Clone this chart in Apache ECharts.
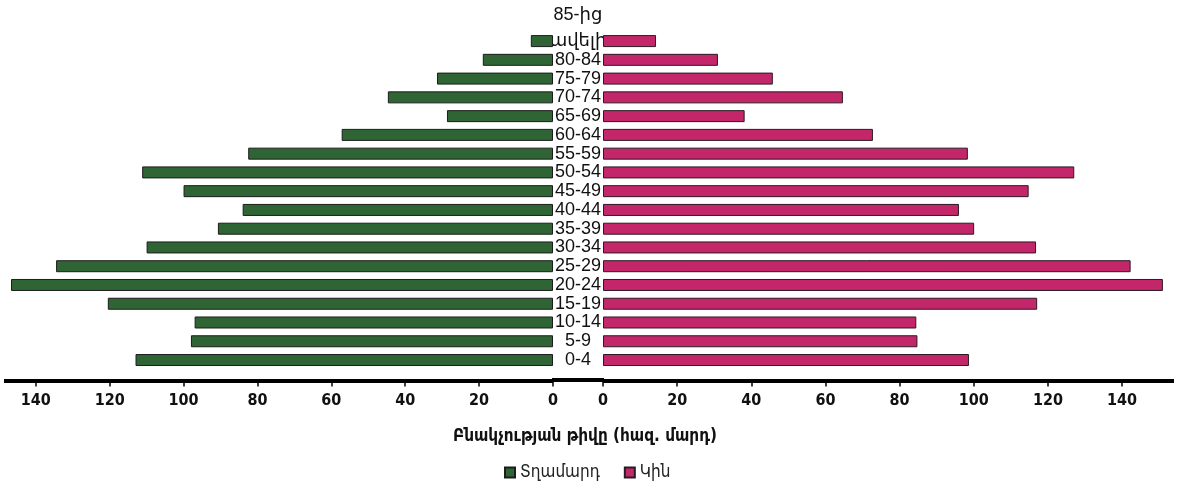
<!DOCTYPE html>
<html>
<head>
<meta charset="utf-8">
<script src="https://cdn.jsdelivr.net/npm/echarts@6/dist/echarts.min.js"></script>
<style>html,body{margin:0;padding:0;background:#fff;}#c{width:1182px;height:495px;}</style>
</head>
<body>
<div id="c"></div>
<script>
var categories = ['0-4','5-9','10-14','15-19','20-24','25-29','30-34','35-39','40-44','45-49','50-54','55-59','60-64','65-69','70-74','75-79','80-84','85-ից ավելի'];
var maleValues = [113, 98, 97, 120.5, 146.7, 134.5, 110, 90.7, 84, 100, 111.2, 82.5, 57.2, 28.7, 44.7, 31.4, 19, 6];
var femaleValues = [98.7, 84.8, 84.5, 117.1, 151, 142.3, 116.8, 100.1, 96, 114.8, 127.1, 98.4, 72.8, 38.2, 64.7, 45.8, 31, 14.3];
var tickValues = [0, 20, 40, 60, 80, 100, 120, 140];
var seriesNames = ['Տղամարդ', 'Կին'];
var axisTitle = 'Բնակչության թիվը (հազ. մարդ)';

var chart = echarts.init(document.getElementById('c'));
var tickFont = "'Liberation Sans Narrow','DejaVu Sans Condensed',sans-serif";
function xAxisFor(gi, inv, mx) {
  return {
    type: 'value', gridIndex: gi, inverse: inv, min: 0, max: mx, offset: 11,
    axisLine: {show: true, lineStyle: {color: '#000', width: 4, cap: 'butt'}},
    axisTick: {show: true, customValues: tickValues, length: 6, lineStyle: {color: '#000', width: 1.5}},
    axisLabel: {customValues: tickValues, margin: 12, fontSize: 16, color: '#111', fontFamily: tickFont, fontWeight: 'bold'},
    splitLine: {show: false}
  };
}
chart.setOption({
  animation: false,
  backgroundColor: '#fff',
  title: {
    text: axisTitle, left: 580, top: 423, textAlign: 'center',
    textStyle: {fontSize: 17, fontWeight: 'bold', color: '#111', fontFamily: "'DejaVu Sans Condensed','Noto Sans',sans-serif"}
  },
  legend: {
    data: seriesNames, left: 504, top: 464, itemWidth: 10, itemHeight: 10, itemGap: 24, padding: 0,
    icon: 'rect',
    textStyle: {fontSize: 17, color: '#222', fontFamily: "'DejaVu Sans Condensed','Noto Sans',sans-serif"}
  },
  grid: [
    {left: 4, right: 629, top: 31.7, bottom: 125.6},
    {left: 603, right: 8, top: 31.7, bottom: 125.6}
  ],
  xAxis: [xAxisFor(0, true, 148.6), xAxisFor(1, false, 154)],
  yAxis: [
    {type: 'category', gridIndex: 0, data: categories, show: false},
    {type: 'category', gridIndex: 1, data: categories, position: 'left',
     axisLine: {show: false}, axisTick: {show: false},
     axisLabel: {
       interval: 0, margin: 25, align: 'center', fontSize: 18, lineHeight: 26, color: '#111',
       fontFamily: "'Liberation Sans','DejaVu Sans',sans-serif",
       formatter: function (v) { return v.indexOf(' ') >= 0 ? v.split(' ').join('\n') + '\n ' : v; }
     }}
  ],
  graphic: [
    {type: 'rect', shape: {x: 552, y: 378, width: 52, height: 4}, style: {fill: '#000'}, silent: true}
  ],
  series: [
    {name: seriesNames[0], type: 'bar', xAxisIndex: 0, yAxisIndex: 0, data: maleValues, barWidth: 12,
     itemStyle: {color: '#2f6534', borderColor: '#1c1c1c', borderWidth: 1}},
    {name: seriesNames[1], type: 'bar', xAxisIndex: 1, yAxisIndex: 1, data: femaleValues, barWidth: 12,
     itemStyle: {color: '#c4266a', borderColor: '#2a1a22', borderWidth: 1}}
  ]
});
</script>
</body>
</html>
